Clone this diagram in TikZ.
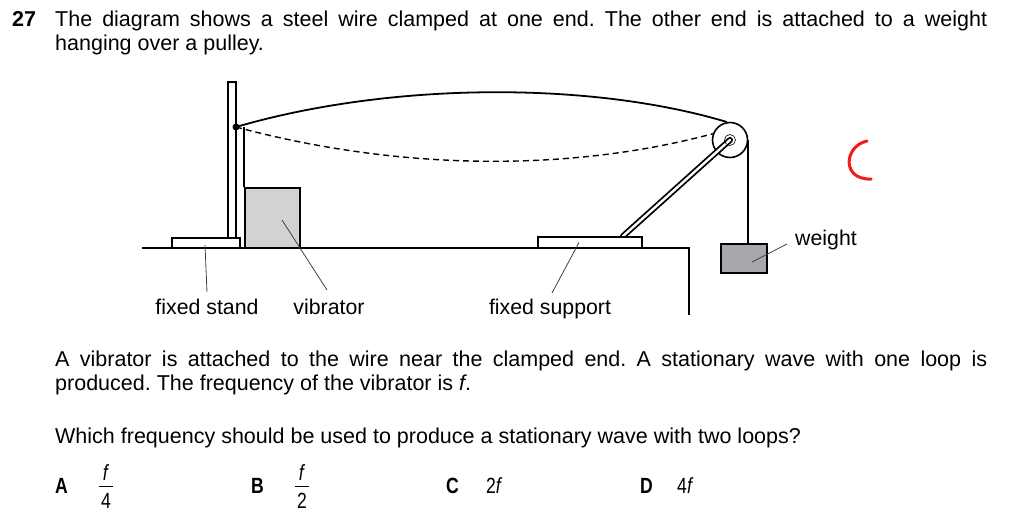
\documentclass[tikz,border=0pt]{standalone}
\usepackage{fontspec}
\setmainfont{Liberation Sans}
\newfontfamily\narrowfont[FakeStretch=0.8]{Liberation Sans}
\usetikzlibrary{positioning, calc}
\definecolor{vibgray}{HTML}{D1D2D4}
\definecolor{weightgray}{HTML}{A7A8AB}
\definecolor{markred}{HTML}{F21A1A}
\frenchspacing

\begin{document}
\begin{tikzpicture}[x=1pt, y=-1pt,
    % Text styles
    qtext/.style={inner sep=0pt, anchor=base west, font=\fontsize{21.5}{24}\selectfont},
    optext/.style={inner sep=0pt, anchor=base west, font=\fontsize{22}{24}\selectfont\narrowfont},
    fractext/.style={inner sep=0pt, anchor=base, font=\fontsize{22}{24}\selectfont\narrowfont},
    labeltext/.style={inner sep=0pt, anchor=base, font=\fontsize{21.3}{24}\selectfont},
    % Apparatus styles
    platebox/.style={rectangle, draw, line width=1.8pt, fill=white, inner sep=0pt},
    vibbox/.style={platebox, fill=vibgray},
    weightbox/.style={platebox, fill=weightgray},
    wheel/.style={circle, draw, line width=1.6pt, fill=white, inner sep=0pt, minimum size=35pt},
    wire/.style={line width=1.8pt},
    dashwire/.style={line width=1.4pt, dash pattern=on 6pt off 4pt},
    leader/.style={line width=0.8pt, draw=black!75},
    junction/.style={circle, fill=black, inner sep=0pt, minimum size=7pt}
]
\useasboundingbox (0,0) rectangle (1024,523);

% Question text
\node[qtext] (qnum) at (12,26) {\textbf{27}};
\node[qtext] (q1a) at (55,26) {\makebox[932pt][s]{The diagram shows a steel wire clamped at one end. The other end is attached to a weight}};
\node[qtext] (q1b) at (55,50) {hanging over a pulley.};

% Table top
\draw[wire] (142,248) -- (689,248) -- (689,315);

% Fixed stand and vibrator
\node[platebox, minimum width=68pt, minimum height=10pt] (standbase) at (206,243) {};
\node[platebox, minimum width=8pt, minimum height=156pt] (post) at (232,160) {};
\node[vibbox, minimum width=55pt, minimum height=60pt] (vib) at (272.5,218) {};
\coordinate (clamp) at (236,127);
\draw[wire] (clamp -| vib.north west) -- (vib.north west);

% Fixed support, rod and pulley
\node[wheel] (pulley) at (730,140) {};
\node[platebox, minimum width=104pt, minimum height=11pt] (support) at (590,242.5) {};
\coordinate (rodfoot) at ($(support.north)+(33,0)$);
\draw[line width=6pt, line cap=round] (rodfoot) -- (pulley.center);
\draw[line width=2.4pt, white, line cap=round] (rodfoot) -- (pulley.center);
\node[platebox, minimum width=104pt, minimum height=11pt] at (support) {};
\node[circle, draw, line width=0.6pt, inner sep=0pt, minimum size=11pt] (axle) at (pulley.center) {};

% Weight
\node[weightbox, minimum width=46pt, minimum height=29pt] (weight) at (744,258.5) {};
\draw[wire] (pulley.east) -- (pulley.east |- weight.north);

% Wire: vibrating positions
\draw[wire] (clamp) .. controls (390,82) and (590,81) .. (pulley.100);
\draw[dashwire] (clamp) .. controls (400,171) and (570,172) .. (pulley.160);
\node[junction] (clampdot) at (clamp) {};

% Labels
\node[labeltext] (standlabel) at (207,314) {fixed stand};
\node[labeltext] (viblabel) at (329,314) {vibrator};
\node[labeltext] (supportlabel) at (550,314) {fixed support};
\node[labeltext] (weightlabel) at (826,245) {weight};

\draw[leader] ($(standlabel.base)+(0,-22)$) -- ($(standbase.center)+(-1,2)$);
\draw[leader] ($(viblabel.base)+(-2,-24)$) -- ($(vib.center)+(9.5,2)$);
\draw[leader] ($(supportlabel.base)+(2,-21)$) -- ($(support.center)+(-11,0)$);
\draw[leader] ($(weightlabel.base west)+(-8,-1)$) -- ($(weight.center)+(8,3.5)$);

% Marking
\draw[markred, line width=3pt, line cap=round] (867,141) .. controls (844,146) and (841,180) .. (871,179);

% Second part of the question
\node[qtext] (q2a) at (55,366) {\makebox[932pt][s]{A vibrator is attached to the wire near the clamped end. A stationary wave with one loop is}};
\node[qtext] (q2b) at (55,390) {produced. The frequency of the vibrator is \textit{f}.};
\node[qtext] (q3) at (55,443) {Which frequency should be used to produce a stationary wave with two loops?};

% Options
\node[optext] (optA) at (55,493) {\textbf{A}};
\node[fractext] (numA) at (106,480) {\textit{f}};
\node[fractext] (denA) at (106,508) {4};
\draw[line width=1pt] ($(numA.base)+(-7,6)$) -- ($(numA.base)+(7,6)$);

\node[optext] (optB) at (251,493) {\textbf{B}};
\node[fractext] (numB) at (302,480) {\textit{f}};
\node[fractext] (denB) at (302,508) {2};
\draw[line width=1pt] ($(numB.base)+(-7,6)$) -- ($(numB.base)+(7,6)$);

\node[optext] (optC) at (446,493) {\textbf{C}};
\node[optext] (valC) at (486,493) {2\textit{f}};

\node[optext] (optD) at (640,493) {\textbf{D}};
\node[optext] (valD) at (677,493) {4\textit{f}};

\end{tikzpicture}
\end{document}
